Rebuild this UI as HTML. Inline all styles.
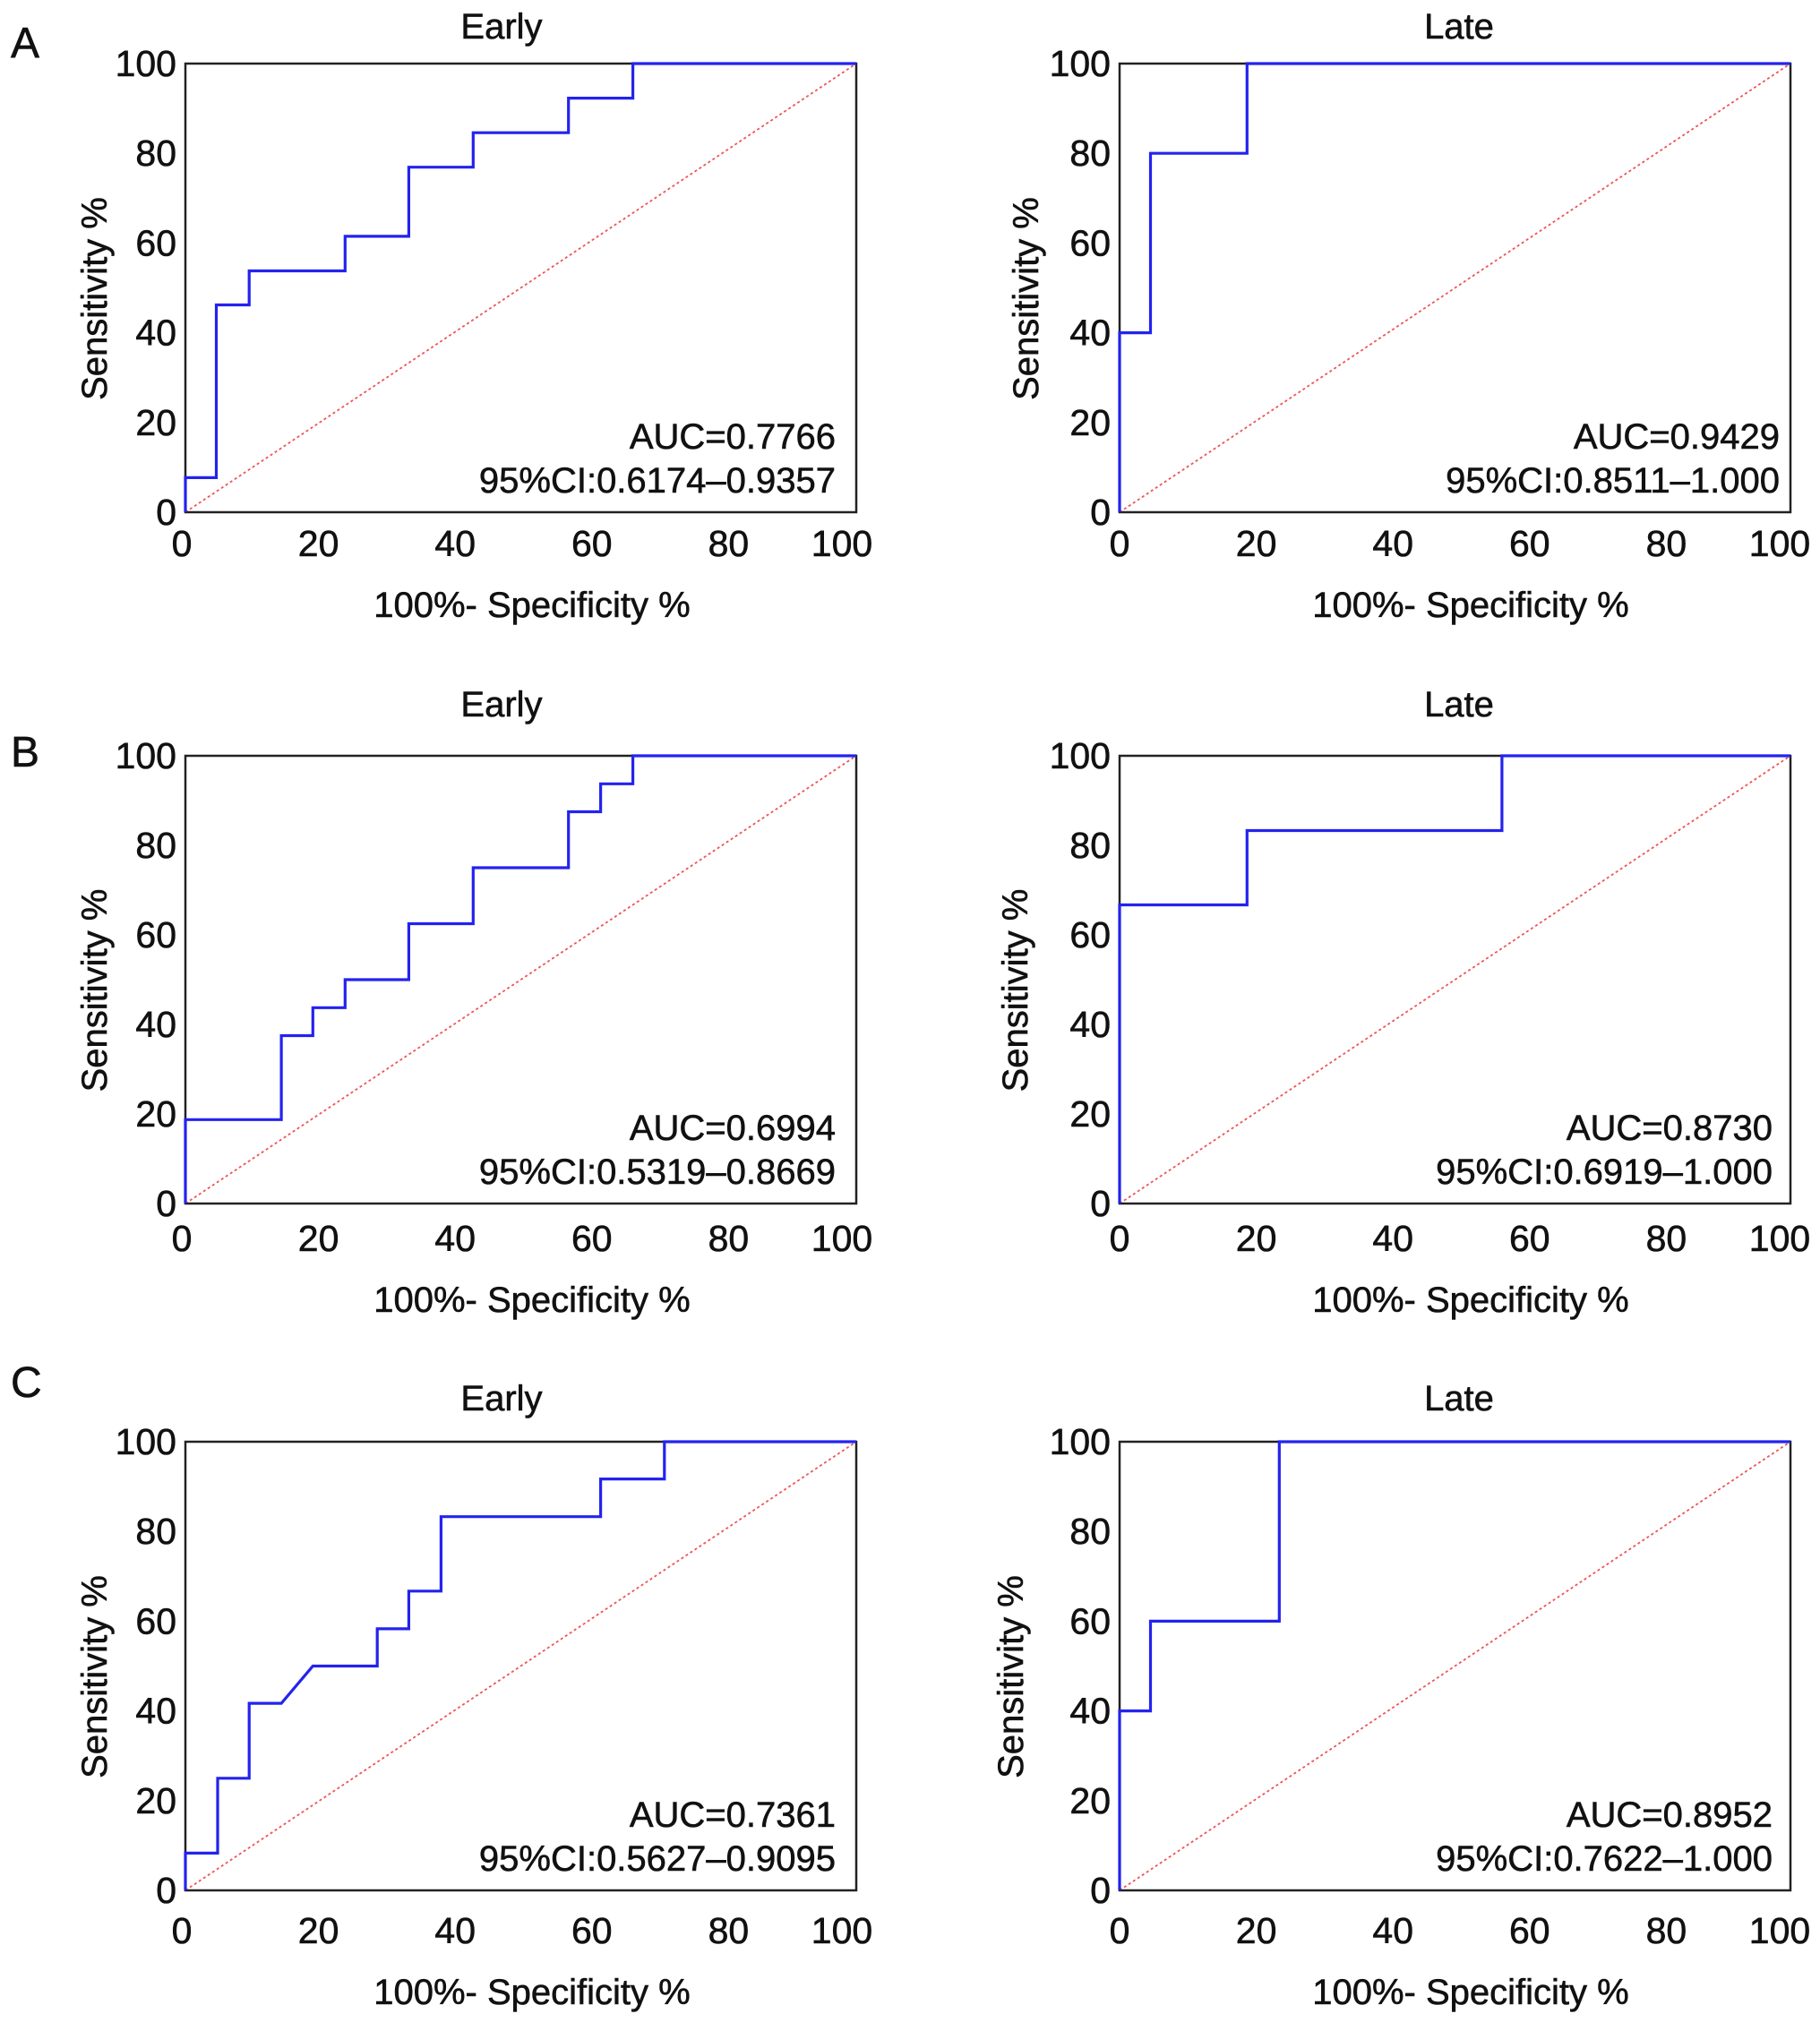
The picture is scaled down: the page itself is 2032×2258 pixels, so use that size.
<!DOCTYPE html>
<html><head><meta charset="utf-8"><style>
html,body{margin:0;padding:0;background:#fff;}
svg{display:block;font-family:"Liberation Sans",Arial,sans-serif;}
</style></head><body>
<svg id="fig" width="2032" height="2258" viewBox="0 0 2032 2258" xmlns="http://www.w3.org/2000/svg"></svg>
<script>
const ticks = [0, 20, 40, 60, 80, 100];
const titles = ["Early", "Late", "Early", "Late", "Early", "Late"];
const aucLabels = ["AUC=0.7766", "AUC=0.9429", "AUC=0.6994", "AUC=0.8730", "AUC=0.7361", "AUC=0.8952"];
const ciLabels = ["95%CI:0.6174\u20130.9357", "95%CI:0.8511\u20131.000", "95%CI:0.5319\u20130.8669", "95%CI:0.6919\u20131.000", "95%CI:0.5627\u20130.9095", "95%CI:0.7622\u20131.000"];
const rocA_early_x = [0, 0, 4.6, 4.6, 9.5, 9.5, 23.8, 23.8, 33.3, 33.3, 42.9, 42.9, 57.1, 57.1, 66.7, 66.7, 100];
const rocA_early_y = [0, 7.7, 7.7, 46.2, 46.2, 53.8, 53.8, 61.5, 61.5, 76.9, 76.9, 84.6, 84.6, 92.3, 92.3, 100, 100];
const rocA_late_x = [0, 0, 4.6, 4.6, 19, 19, 100];
const rocA_late_y = [0, 40, 40, 80, 80, 100, 100];
const rocB_early_x = [0, 0, 14.3, 14.3, 19, 19, 23.8, 23.8, 33.3, 33.3, 42.9, 42.9, 57.1, 57.1, 61.9, 61.9, 66.7, 66.7, 100];
const rocB_early_y = [0, 18.75, 18.75, 37.5, 37.5, 43.75, 43.75, 50, 50, 62.5, 62.5, 75, 75, 87.5, 87.5, 93.75, 93.75, 100, 100];
const rocB_late_x = [0, 0, 19, 19, 57, 57, 100];
const rocB_late_y = [0, 66.7, 66.7, 83.3, 83.3, 100, 100];
const rocC_early_x = [0, 0, 4.8, 4.8, 9.5, 9.5, 14.3, 19, 28.6, 28.6, 33.3, 33.3, 38.1, 38.1, 61.9, 61.9, 71.4, 71.4, 100];
const rocC_early_y = [0, 8.3, 8.3, 25, 25, 41.7, 41.7, 50, 50, 58.3, 58.3, 66.7, 66.7, 83.3, 83.3, 91.7, 91.7, 100, 100];
const rocC_late_x = [0, 0, 4.6, 4.6, 23.8, 23.8, 100];
const rocC_late_y = [0, 40, 40, 60, 60, 100, 100];

const seriesX = [rocA_early_x, rocA_late_x, rocB_early_x, rocB_late_x, rocC_early_x, rocC_late_x];
const seriesY = [rocA_early_y, rocA_late_y, rocB_early_y, rocB_late_y, rocC_early_y, rocC_late_y];

const svg = document.getElementById('fig');
const NS = 'http://www.w3.org/2000/svg';
function mk(tag, attrs, parent) {
  const e = document.createElementNS(NS, tag);
  for (const k in attrs) e.setAttribute(k, attrs[k]);
  (parent || svg).appendChild(e);
  return e;
}
const TXT = {fill: '#111', stroke: '#111', 'stroke-width': 0.6};
function txt(attrs, parent) { return mk('text', Object.assign({}, TXT, attrs), parent); }
const rows = [{top: 71, bot: 572, tgap: 42, letter: "A", ly: 64, xo: 0}, {top: 844, bot: 1344, tgap: 58, letter: "B", ly: 856, xo: 4}, {top: 1610, bot: 2111, tgap: 49, letter: "C", ly: 1560, xo: 10}];
const cols = [{l: 207, r: 956, tc: 560, xc: 594, lo: -4}, {l: 1250, r: 1999, tc: 1629, xc: 1642, lo: 0}];
const ylabX = [105, 1145, 105, 1133, 105, 1128];
const txtRight = [933, 1987, 933, 1979, 933, 1979];

rows.forEach((row, ri) => {
  const L = txt({x: 12, y: row.ly, 'font-size': 48});
  
  
  L.textContent = row.letter;
  cols.forEach((col, ci) => {
    const i = ri * 2 + ci;
    const g = mk('g', {});
    
    
    const sx = v => col.l + (col.r - col.l) * v / 100;
    const sy = v => row.bot - (row.bot - row.top) * v / 100;
    const lx = v => v >= 100 ? col.l + 733 + col.lo + 4 : col.l + col.lo + v * 7.63;
    const t = txt({x: col.tc, y: row.top - row.tgap + 14, 'font-size': 40, 'text-anchor': 'middle'}, g);
    
    
    t.textContent = titles[i];
    const d = mk('line', {x1: sx(0), y1: sy(0), x2: sx(100), y2: sy(100), stroke: '#ee5555', 'stroke-width': 1.8, 'stroke-dasharray': '3,3'}, g);
    
    
    const f = mk('rect', {x: col.l, y: row.top, width: col.r - col.l, height: row.bot - row.top, fill: 'none', stroke: '#222', 'stroke-width': 2.5}, g);
    
    
    const xs = seriesX[i], ys = seriesY[i];
    const pts = xs.map((x, k) => sx(x).toFixed(1) + ',' + sy(ys[k]).toFixed(1)).join(' ');
    const p = mk('polyline', {points: pts, fill: 'none', stroke: '#2323ee', 'stroke-width': 3.2, 'stroke-linejoin': 'miter'}, g);
    
    
    ticks.forEach(v => {
      const ty = txt({x: col.l - 10, y: sy(v) + 14, 'font-size': 41, 'text-anchor': 'end'}, g);
      
      
      ty.textContent = v;
      const tx = txt({x: lx(v), y: row.bot + 49 + row.xo, 'font-size': 41, 'text-anchor': 'middle'}, g);
      
      
      tx.textContent = v;
    });
    const xl = txt({x: col.xc, y: row.bot + 117 + row.xo, 'font-size': 40, 'text-anchor': 'middle'}, g);
    
    
    xl.textContent = '100%- Specificity %';
    const cy = (row.top + row.bot) / 2 + 12;
    const yl = txt({x: ylabX[i], y: cy, 'font-size': 40, 'text-anchor': 'middle', transform: 'rotate(-90 ' + ylabX[i] + ' ' + cy + ')', dy: 14}, g);
    
    
    yl.textContent = 'Sensitivity %';
    const a = txt({x: txtRight[i], y: row.bot - 71, 'font-size': 40, 'text-anchor': 'end'}, g);
    
    
    a.textContent = aucLabels[i];
    const c = txt({x: txtRight[i], y: row.bot - 22, 'font-size': 40, 'text-anchor': 'end'}, g);
    
    
    c.textContent = ciLabels[i];
  });
});
</script>
</body></html>
